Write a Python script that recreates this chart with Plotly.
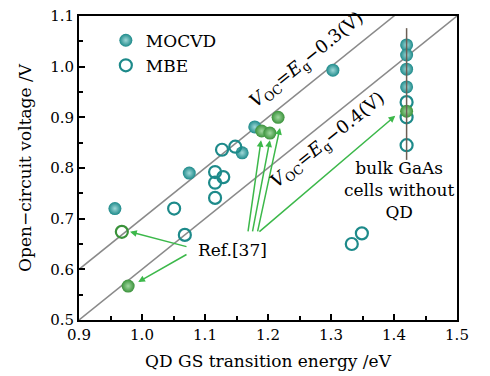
import plotly.graph_objects as go

# MOCVD (filled teal)
mocvd_x = [0.957, 1.075, 1.159, 1.179, 1.303, 1.42, 1.42, 1.42, 1.42]
mocvd_y = [0.72, 0.79, 0.83, 0.881, 0.993, 1.043, 1.023, 0.995, 0.96]
# MBE (open teal)
mbe_x = [1.051, 1.068, 1.116, 1.116, 1.129, 1.116, 1.127, 1.148, 1.333, 1.349, 1.42, 1.42, 1.42]
mbe_y = [0.72, 0.668, 0.741, 0.771, 0.782, 0.792, 0.836, 0.842, 0.65, 0.671, 0.93, 0.90, 0.845]
# Ref.[37] points (green)
ref_fill_x = [0.978, 1.19, 1.203, 1.216, 1.42]
ref_fill_y = [0.567, 0.873, 0.869, 0.90, 0.912]
ref_open_x = [0.968]
ref_open_y = [0.674]
# reference lines Voc = Eg - offset
line_offsets = [0.3, 0.4]
line_x = [0.9, 1.5]
bulk_x = [1.42, 1.42]
bulk_y = [0.816, 1.076]

TEAL = "#1d8a8a"
GREEN = "#3a923a"
ARROW = "#3cb84a"
FONT = "DejaVu Serif"

fig = go.Figure()
for off in line_offsets:
    fig.add_trace(go.Scatter(x=line_x, y=[v - off for v in line_x], mode="lines",
                             line=dict(color="#8a8a8a", width=1.5), showlegend=False, hoverinfo="skip"))

fig.add_trace(go.Scatter(x=mocvd_x, y=mocvd_y, mode="markers", name="MOCVD",
                         marker=dict(size=13, color=TEAL, gradient=dict(type="radial", color="#9fd8d8"),
                                     line=dict(width=0))))
fig.add_trace(go.Scatter(x=mbe_x, y=mbe_y, mode="markers", name="MBE",
                         marker=dict(size=12, symbol="circle-open", color=TEAL, line=dict(width=2.2, color=TEAL))))
fig.add_trace(go.Scatter(x=ref_fill_x, y=ref_fill_y, mode="markers", showlegend=False,
                         marker=dict(size=13, color=GREEN, gradient=dict(type="radial", color="#a0d8a0"),
                                     line=dict(width=0))))
fig.add_trace(go.Scatter(x=ref_open_x, y=ref_open_y, mode="markers", showlegend=False,
                         marker=dict(size=12, symbol="circle-open", color=GREEN, line=dict(width=2.2, color=GREEN))))
fig.add_trace(go.Scatter(x=bulk_x, y=bulk_y, mode="lines", showlegend=False,
                         line=dict(color="#6b5f55", width=1.5), hoverinfo="skip"))

arrows = [
    ((1.073, 0.644), (0.981, 0.674)),
    ((1.073, 0.631), (0.994, 0.575)),
    ((1.168, 0.672), (1.189, 0.855)),
    ((1.175, 0.672), (1.203, 0.855)),
    ((1.183, 0.672), (1.219, 0.879)),
    ((1.184, 0.672), (1.402, 0.903)),
]
for (tx, ty), (hx, hy) in arrows:
    fig.add_annotation(x=hx, y=hy, ax=tx, ay=ty, xref="x", yref="y", axref="x", ayref="y",
                       showarrow=True, arrowhead=2, arrowsize=0.9, arrowwidth=1.5, arrowcolor=ARROW, text="")

fig.add_annotation(x=1.143, y=0.638, text="Ref.[37]", showarrow=False,
                   font=dict(family=FONT, size=17, color="black"), bgcolor="white", borderpad=0)
fig.add_annotation(x=1.262, y=1.013, text="<i>V</i><sub>OC</sub>=<i>E</i><sub>g</sub>−0.3(V)", showarrow=False,
                   textangle=-39, font=dict(family=FONT, size=18, color="black"))
fig.add_annotation(x=1.296, y=0.855, text="<i>V</i><sub>OC</sub>=<i>E</i><sub>g</sub>−0.4(V)", showarrow=False,
                   textangle=-39, font=dict(family=FONT, size=18, color="black"))
fig.add_annotation(x=1.409, y=0.757, text="bulk GaAs<br>cells without<br>QD", showarrow=False,
                   font=dict(family=FONT, size=17, color="black"), align="center")

axis_common = dict(showline=True, linecolor="black", linewidth=2, mirror=True, showgrid=False,
                   zeroline=False, ticks="inside", ticklen=6, tickwidth=2, tickcolor="black",
                   tickfont=dict(family=FONT, size=15, color="black"), automargin=False)
fig.update_xaxes(range=[0.9, 1.5], dtick=0.1, tick0=0.9, tickformat=".1f",
                 minor=dict(dtick=0.05, ticks="inside", ticklen=4, tickwidth=2, tickcolor="black"),
                 title=dict(text="QD GS transition energy /eV", font=dict(family=FONT, size=17, color="black"), standoff=12),
                 **axis_common)
fig.update_yaxes(range=[0.5, 1.1], dtick=0.1, tick0=0.5, tickformat=".1f",
                 minor=dict(dtick=0.05, ticks="inside", ticklen=4, tickwidth=2, tickcolor="black"),
                 title=dict(text="Open−circuit voltage /V", font=dict(family=FONT, size=17, color="black"), standoff=14),
                 **axis_common)
fig.update_layout(width=490, height=376, margin=dict(l=79, r=33, t=16, b=56),
                  font=dict(family=FONT, color="black"),
                  plot_bgcolor="white", paper_bgcolor="white",
                  legend=dict(x=0.071, y=0.978, xanchor="left", yanchor="top", bgcolor="rgba(0,0,0,0)",
                              font=dict(family=FONT, size=17, color="black"), itemwidth=30, tracegroupgap=0))
fig.write_html("out.html")
